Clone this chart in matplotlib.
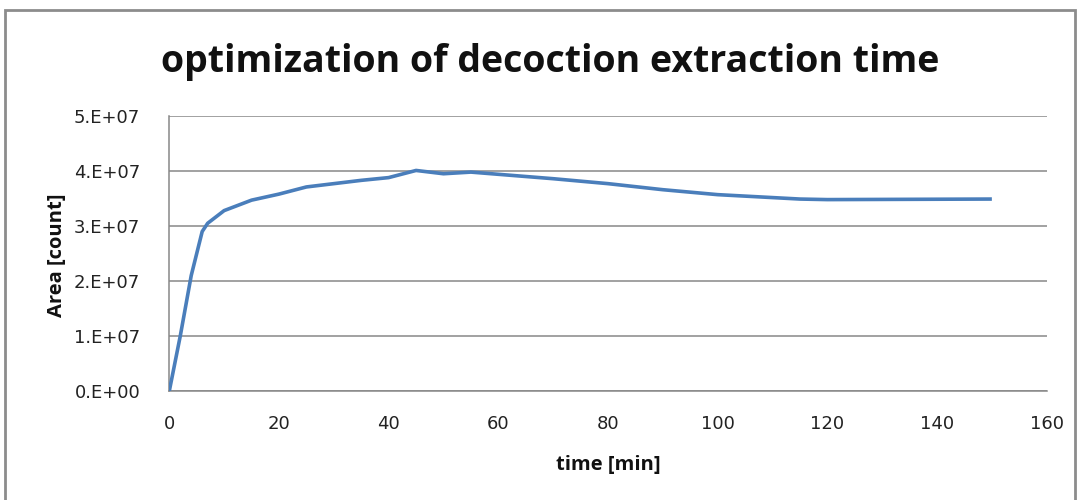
import matplotlib
matplotlib.use('Agg')
import matplotlib.pyplot as plt
from matplotlib.ticker import FuncFormatter, MultipleLocator
from matplotlib.patches import Rectangle

# extraction time [min] and peak area [count]
time_min = [0, 2, 4, 6, 7, 10, 15, 20, 25, 35, 40, 45, 50, 55, 60, 70, 80, 90, 100, 115, 120, 150]
area = [0.0, 1.0e7, 2.1e7, 2.9e7, 3.05e7, 3.28e7, 3.47e7, 3.58e7, 3.71e7, 3.83e7, 3.88e7,
        4.01e7, 3.95e7, 3.98e7, 3.94e7, 3.86e7, 3.77e7, 3.66e7, 3.57e7, 3.49e7, 3.48e7, 3.49e7]

title = 'optimization of decoction extraction time'
xlabel = 'time [min]'
ylabel = 'Area [count]'


def sci_label(v, pos):
    """Excel style 0.E+00 labels"""
    if v == 0:
        return '0.E+00'
    exp = 7
    return f'{v / 10**exp:.0f}.E+{exp:02d}'


fig = plt.figure(figsize=(10.8, 5), dpi=100)
fig.patch.set_facecolor('white')

# chart border like the Excel chart area
fig.patches.append(Rectangle((5 / 1080, -0.05), 1070 / 1080, 1.05 - 10 / 500,
                             transform=fig.transFigure, fill=False,
                             edgecolor='#8c8c8c', linewidth=2))

ax = fig.add_axes([169.3 / 1080, 1 - 391 / 500, (1046.7 - 169.3) / 1080, (391 - 116) / 500])
ax.plot(time_min, area, color='#4a7ebb', linewidth=2.6, solid_joinstyle='round',
        solid_capstyle='butt', zorder=3)

ax.set_xlim(0, 160)
ax.set_ylim(0, 5e7)
ax.xaxis.set_major_locator(MultipleLocator(20))
ax.yaxis.set_major_locator(MultipleLocator(1e7))
ax.yaxis.set_major_formatter(FuncFormatter(sci_label))

ax.grid(axis='y', color='#878787', linewidth=1.1)
ax.set_axisbelow(True)
for s in ['top', 'right']:
    ax.spines[s].set_visible(False)
for s in ['left', 'bottom']:
    ax.spines[s].set_color('#878787')
    ax.spines[s].set_linewidth(1.1)
ax.tick_params(axis='y', length=0, labelsize=13, colors='#222222', pad=21)
ax.tick_params(axis='x', length=0, labelsize=13, colors='#222222', pad=17)
for lab in ax.get_xticklabels() + ax.get_yticklabels():
    lab.set_family('DejaVu Sans')

fig.text(550 / 1080, 1 - 62 / 500, title, ha='center', va='center',
         fontsize=27, fontweight='bold', family='Open Sans', color='#111111')
fig.text(57 / 1080, 1 - 255 / 500, ylabel, ha='center', va='center', rotation=90,
         fontsize=14.5, fontweight='bold', family='Open Sans', color='#111111')
fig.text(608 / 1080, 1 - 465 / 500, xlabel, ha='center', va='center',
         fontsize=14.5, fontweight='bold', family='Open Sans', color='#111111')

plt.savefig('out.png', dpi=100)
plt.close()
